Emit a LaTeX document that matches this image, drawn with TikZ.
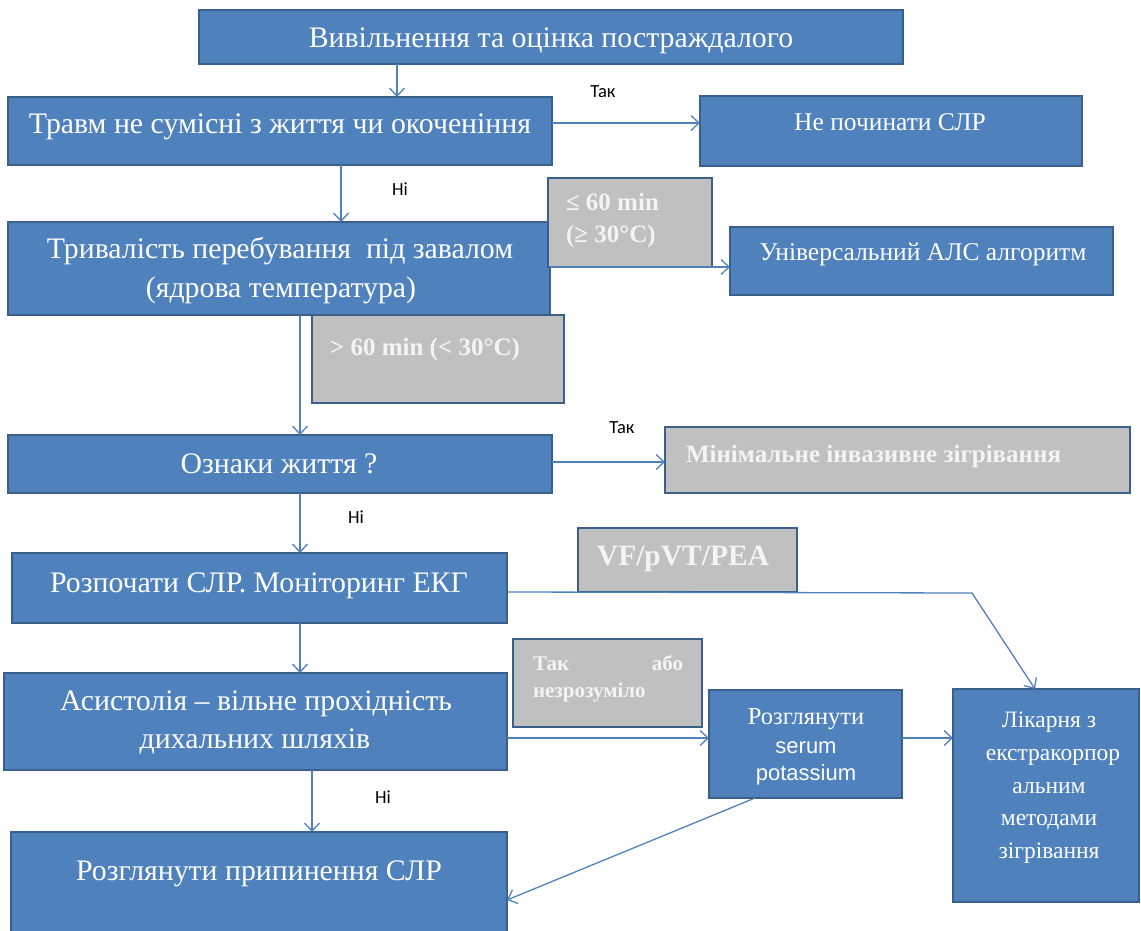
\documentclass[tikz,border=0pt]{standalone}
\usepackage{fontspec}
\setmainfont{Liberation Serif}
\newfontfamily\lsans{Liberation Sans}
\newfontfamily\calib{Carlito}
\usetikzlibrary{arrows.meta}
\definecolor{bfill}{HTML}{4F81BD}
\definecolor{bdraw}{HTML}{3A5F8B}
\definecolor{gfill}{HTML}{C0C0C0}
\definecolor{lcol}{HTML}{4F81BD}
\definecolor{gtext}{HTML}{F4F4F4}
\begin{document}
\begin{tikzpicture}[x=1pt,y=-1pt,
  bbox/.style={draw=bdraw, line width=2.6pt, fill=bfill, inner sep=0pt, outer sep=0pt, rectangle},
  gbox/.style={draw=bdraw, line width=2.6pt, fill=gfill, inner sep=0pt, outer sep=0pt, rectangle},
  tw/.style={text=white, inner sep=0pt, outer sep=0pt, anchor=base},
  big/.style={tw, font=\fontsize{29.8}{34}\selectfont},
  mid/.style={tw, font=\fontsize{25.5}{30}\selectfont},
  sml/.style={tw, font=\fontsize{23.5}{27}\selectfont},
  gt/.style={text=gtext, inner sep=0pt, outer sep=0pt, font=\bfseries\fontsize{25}{29}\selectfont},
  arr/.style={draw=lcol, line width=1.3pt, -{Straight Barb[length=8pt,width=15pt,line width=1.3pt]}},
  lab/.style={font=\calib\fontsize{18.5}{20}\selectfont, anchor=center, inner sep=0pt}]
\useasboundingbox (0,0) rectangle (1141,931);

% helper coordinates
\coordinate (x397) at (397,0);
\coordinate (x341) at (341,0);
\coordinate (x300) at (300,0);
\coordinate (x312) at (312,0);
\coordinate (x755) at (755,0);
\coordinate (x1035) at (1035,0);
\coordinate (y123) at (0,123);
\coordinate (y267) at (0,267);
\coordinate (y462) at (0,462);
\coordinate (y592) at (0,592);
\coordinate (y738) at (0,738);
\coordinate (y900) at (0,900);
\coordinate (bend) at (972,593);

% boxes
\node[bbox, minimum width=704pt, minimum height=54pt] (b1) at (551,37) {};
\node[bbox, minimum width=544pt, minimum height=68pt] (trauma) at (280,131) {};
\node[bbox, minimum width=382pt, minimum height=70pt] (nocpr) at (891,131) {};
\node[gbox, minimum width=252pt, minimum height=88pt] (gt60) at (438,359) {};
\node[bbox, minimum width=542pt, minimum height=93pt] (dur) at (279,268.5) {};
\node[gbox, minimum width=164pt, minimum height=89pt] (le60) at (630,222.5) {};
\node[bbox, minimum width=383pt, minimum height=68pt] (univ) at (921.5,261) {};
\node[bbox, minimum width=544pt, minimum height=58pt] (signs) at (280,464) {};
\node[gbox, minimum width=465pt, minimum height=66pt] (minim) at (897.5,460) {};
\node[bbox, minimum width=495pt, minimum height=70pt] (start) at (259.5,588) {};
\node[gbox, minimum width=219pt, minimum height=64pt] (vf) at (687.5,560) {};
\node[bbox, minimum width=503pt, minimum height=97pt] (asys) at (255.5,721.5) {};
\node[gbox, minimum width=189pt, minimum height=88pt] (takabo) at (607.5,683) {};
\node[bbox, minimum width=193pt, minimum height=108pt] (serum) at (805.5,744) {};
\node[bbox, minimum width=186pt, minimum height=213pt] (hosp) at (1046,795.5) {};
\node[bbox, minimum width=496pt, minimum height=103pt] (stop) at (259,883.5) {};

% texts
\node[big] (t1) at (551,48) {Вивільнення та оцінка постраждалого};
\node[big] (t2) at (280,134) {Травм не сумісні з життя чи окоченіння};
\node[big] (t3a) at (280,258) {Тривалість перебування\ \ під завалом};
\node[big] (t3b) at (281,297) {(ядрова температура)};
\node[mid] (t4) at (890,131) {Не починати СЛР};
\node[gt, anchor=base west] (t5a) at (566,211) {≤ 60 min};
\node[gt, anchor=base west] (t5b) at (566,242) {(≥ 30°C)};
\node[mid] (t6) at (923,260) {Універсальний АЛС алгоритм};
\node[gt, anchor=base west] (t7) at (330,355) {> 60 min (< 30°C)};
\node[big] (t8) at (279,473) {Ознаки життя ?};
\node[gt, anchor=base west] (t9) at (686,462) {Мінімальне інвазивне зігрівання};
\node[big] (t10) at (259,592) {Розпочати СЛР. Моніторинг ЕКГ};
\node[gt, anchor=base, font=\bfseries\fontsize{29.5}{32}\selectfont] (t11) at (683,565) {VF/pVT/PEA};
\node[big] (t12a) at (256,710) {Асистолія – вільне прохідність};
\node[big] (t12b) at (255,748) {дихальних шляхів};
\node[gt, anchor=base west, font=\bfseries\fontsize{21}{24}\selectfont] (t13a) at (533,670) {Так};
\node[gt, anchor=base east, font=\bfseries\fontsize{21}{24}\selectfont] (t13b) at (683,670) {або};
\node[gt, anchor=base west, font=\bfseries\fontsize{21}{24}\selectfont] (t13c) at (533,697) {незрозуміло};
\node[tw, font=\fontsize{24.5}{28}\selectfont] (t14a) at (806,724) {Розглянути};
\node[tw, font=\lsans\fontsize{22}{25}\selectfont] (t14b) at (806,753) {serum};
\node[tw, font=\lsans\fontsize{22}{25}\selectfont] (t14c) at (806,780) {potassium};
\node[sml] (t15a) at (1049,727) {Лікарня з};
\node[sml] (t15b) at (1053,760) {екстракорпор};
\node[sml] (t15c) at (1049,793) {альним};
\node[sml] (t15d) at (1049,825) {методами};
\node[sml] (t15e) at (1049,858) {зігрівання};
\node[big] (t16) at (259,880) {Розглянути припинення СЛР};

% labels
\node[lab] (l1) at (603,92) {Так};
\node[lab] (l2) at (400,189) {Ні};
\node[lab] (l3) at (622,428) {Так};
\node[lab] (l4) at (356,517) {Ні};
\node[lab] (l5) at (383,797) {Ні};

% connectors
\draw[arr] (b1.south -| x397) -- (trauma.north -| x397);
\draw[arr] (trauma.east |- y123) -- (nocpr.west |- y123);
\draw[arr] (trauma.south -| x341) -- (dur.north -| x341);
\draw[arr] (dur.east |- y267) -- (univ.west |- y267);
\draw[arr] (dur.south -| x300) -- (signs.north -| x300);
\draw[arr] (signs.east |- y462) -- (minim.west |- y462);
\draw[arr] (signs.south -| x300) -- (start.north -| x300);
\draw[arr] (start.south -| x300) -- (asys.north -| x300);
\draw[arr] (start.east |- y592) -- (bend) -- (hosp.north -| x1035);
\draw[arr] (asys.east |- y738) -- (serum.west |- y738);
\draw[arr] (serum.east |- y738) -- (hosp.west |- y738);
\draw[arr] (serum.south -| x755) -- (stop.east |- y900);
\draw[arr] (asys.south -| x312) -- (stop.north -| x312);
\end{tikzpicture}
\end{document}
